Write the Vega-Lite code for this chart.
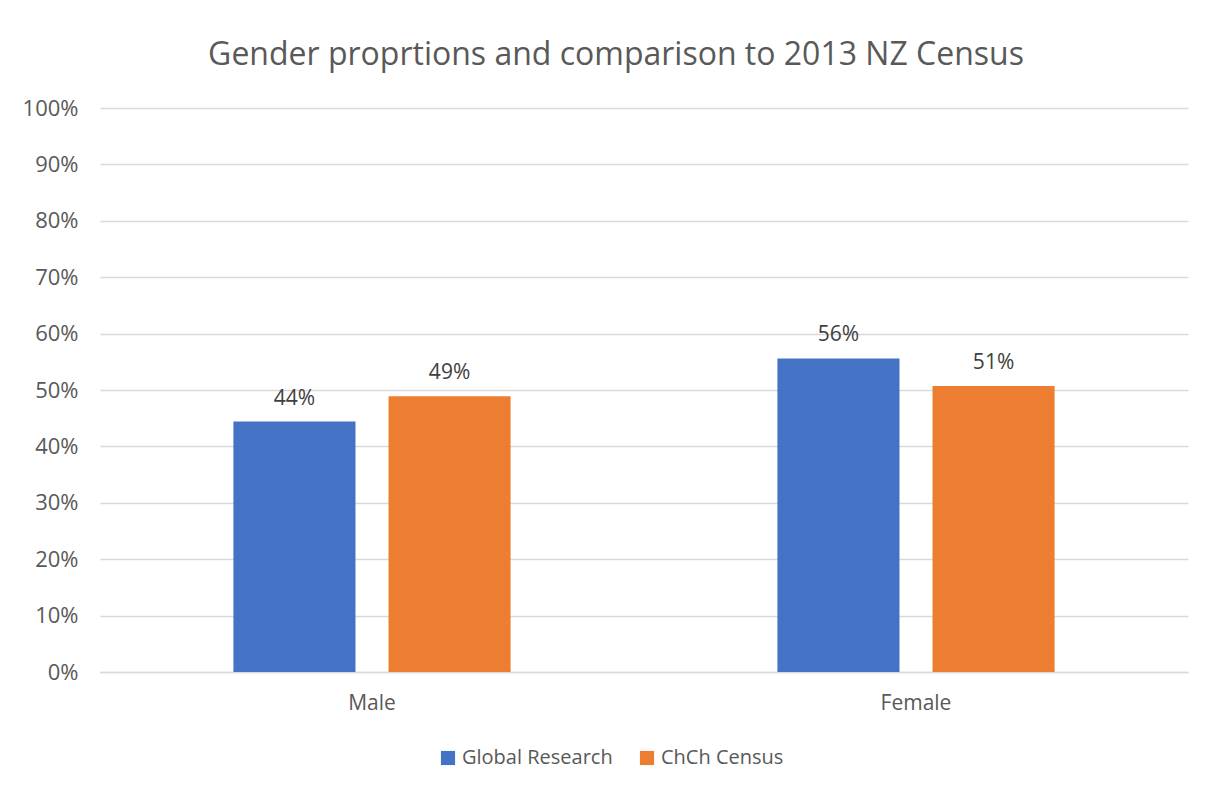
{
  "$schema": "https://vega.github.io/schema/vega-lite/v6.json",
  "width": 1088,
  "height": 564,
  "autosize": {"type": "none"},
  "padding": {"left": 100, "top": 108, "right": 26, "bottom": 115},
  "background": "white",
  "title": {
    "text": "Gender proprtions and comparison to 2013 NZ Census",
    "font": "Open Sans",
    "fontSize": 32,
    "fontWeight": "normal",
    "color": "#595959",
    "anchor": "middle",
    "dx": -28,
    "offset": 25
  },
  "data": {
    "values": [
      {"gender": "Male", "series": "Global Research", "value": 0.444},
      {"gender": "Male", "series": "ChCh Census", "value": 0.489},
      {"gender": "Female", "series": "Global Research", "value": 0.556},
      {"gender": "Female", "series": "ChCh Census", "value": 0.507}
    ]
  },
  "encoding": {
    "x": {
      "field": "gender",
      "type": "nominal",
      "sort": ["Male", "Female"],
      "scale": {"paddingInner": 0, "paddingOuter": 0},
      "axis": {
        "title": null,
        "labelAngle": 0,
        "labelFont": "Open Sans",
        "labelFontSize": 21,
        "labelColor": "#595959",
        "labelPadding": 20,
        "ticks": false,
        "domain": true,
        "domainColor": "#D9D9D9",
        "domainWidth": 1.5
      }
    },
    "xOffset": {
      "field": "series",
      "type": "nominal",
      "sort": ["Global Research", "ChCh Census"],
      "scale": {"paddingInner": 0.213, "paddingOuter": 0.86}
    },
    "y": {
      "field": "value",
      "type": "quantitative",
      "scale": {"domain": [0, 1]},
      "axis": {
        "title": null,
        "values": [0, 0.1, 0.2, 0.3, 0.4, 0.5, 0.6, 0.7, 0.8, 0.9, 1],
        "format": ".0%",
        "labelFont": "Open Sans",
        "labelFontSize": 22,
        "labelColor": "#595959",
        "labelPadding": 22,
        "ticks": false,
        "domain": false,
        "grid": true,
        "gridColor": "#D9D9D9",
        "gridWidth": 1.5
      }
    }
  },
  "layer": [
    {
      "mark": {"type": "bar"},
      "encoding": {
        "color": {
          "field": "series",
          "type": "nominal",
          "sort": ["Global Research", "ChCh Census"],
          "scale": {"domain": ["Global Research", "ChCh Census"], "range": ["#4472C4", "#ED7D31"]},
          "legend": {
            "title": null,
            "orient": "none",
            "legendX": 338,
            "legendY": 640,
            "direction": "horizontal",
            "symbolType": "square",
            "symbolSize": 200,
            "symbolStrokeWidth": 0,
            "labelFont": "Open Sans",
            "labelFontSize": 20,
            "labelColor": "#595959",
            "columnPadding": 24
          }
        }
      }
    },
    {
      "mark": {"type": "text", "baseline": "alphabetic", "dy": -17, "font": "Open Sans", "fontSize": 21, "color": "#404040"},
      "encoding": {
        "text": {"field": "value", "type": "quantitative", "format": ".0%"}
      }
    }
  ],
  "config": {"view": {"stroke": null}}
}
